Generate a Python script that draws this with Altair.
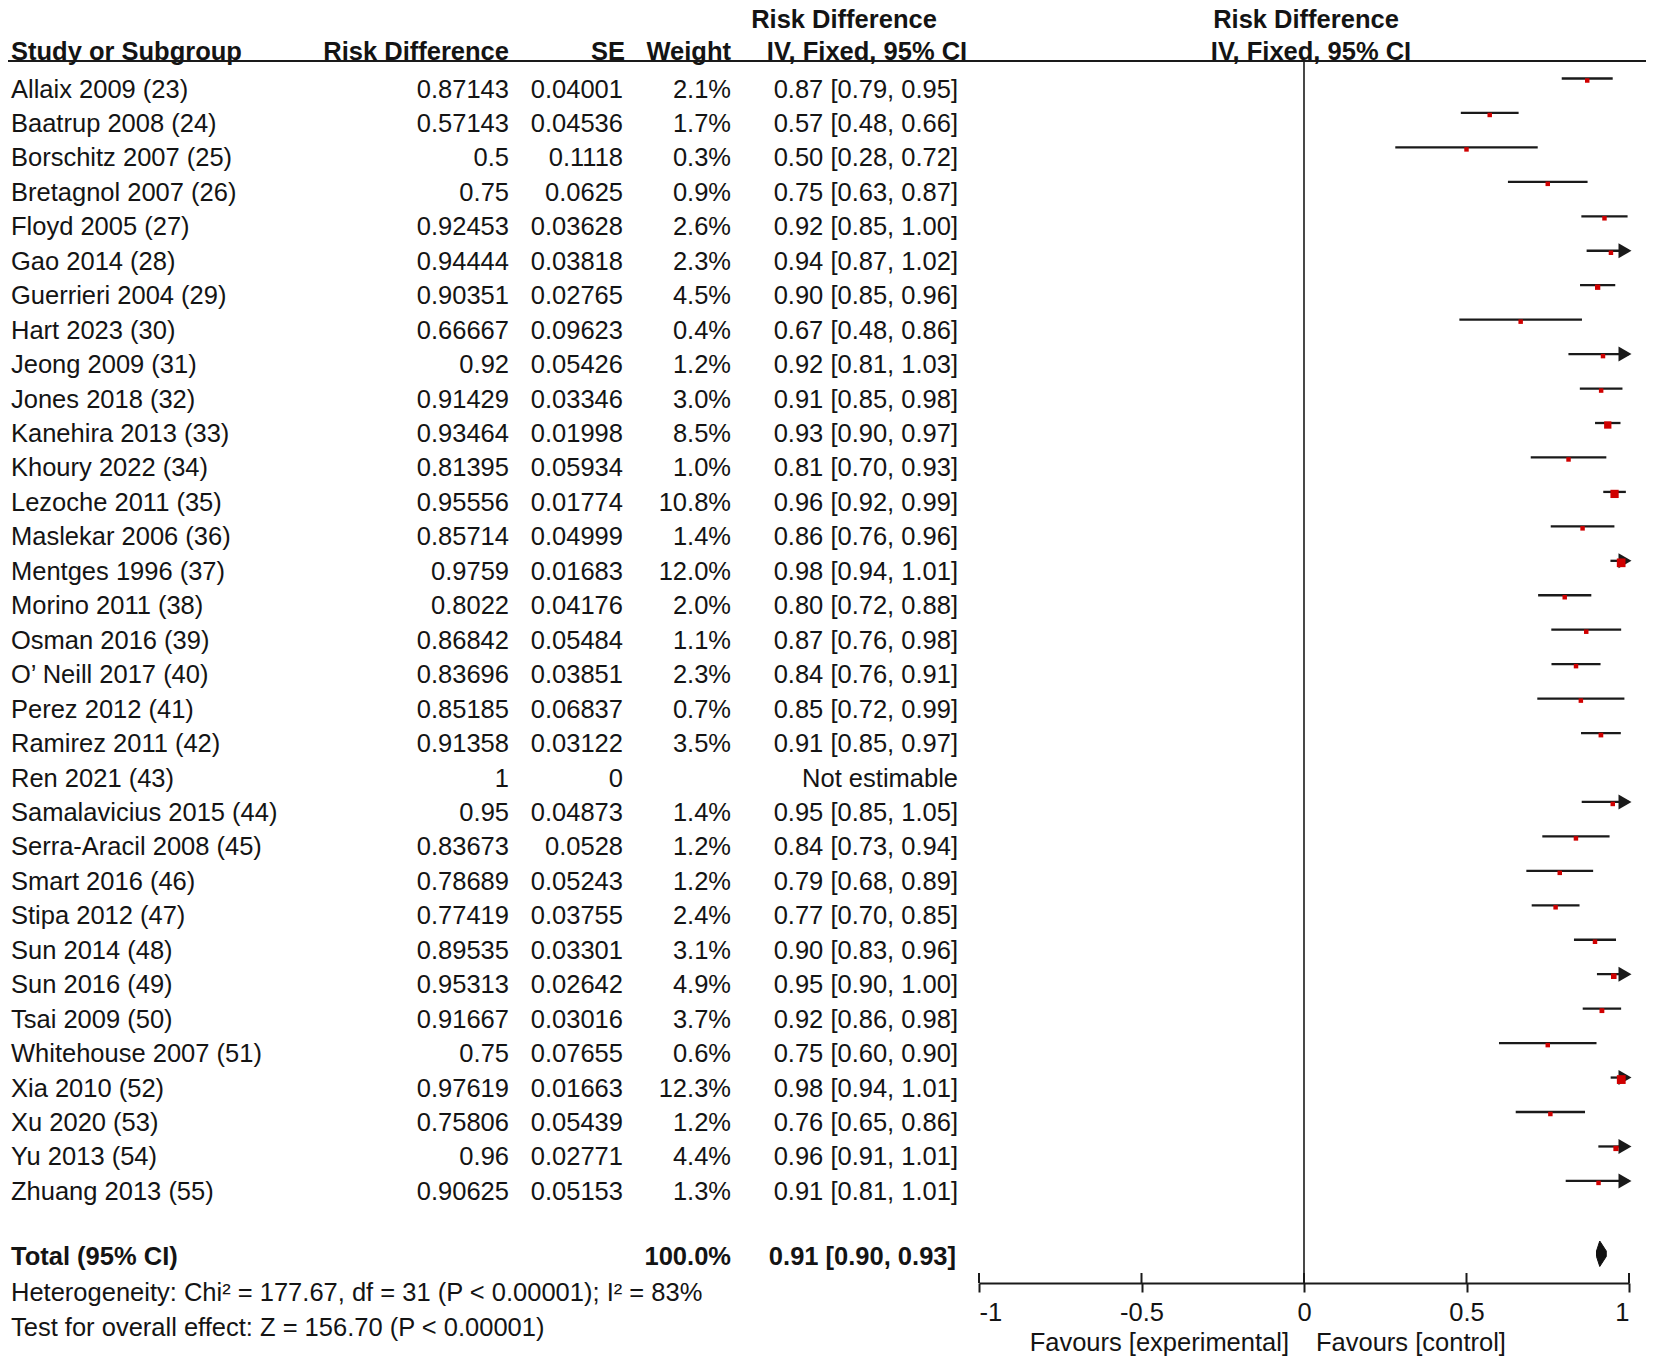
import altair as alt
import pandas as pd

# ---------------- data ----------------
studies = ["Allaix 2009 (23)", "Baatrup 2008 (24)", "Borschitz 2007 (25)", "Bretagnol 2007 (26)",
           "Floyd 2005 (27)", "Gao 2014 (28)", "Guerrieri 2004 (29)", "Hart 2023 (30)",
           "Jeong 2009 (31)", "Jones 2018 (32)", "Kanehira 2013 (33)", "Khoury 2022 (34)",
           "Lezoche 2011 (35)", "Maslekar 2006 (36)", "Mentges 1996 (37)", "Morino 2011 (38)",
           "Osman 2016 (39)", "O\u2019 Neill 2017 (40)", "Perez 2012 (41)", "Ramirez 2011 (42)",
           "Ren 2021 (43)", "Samalavicius 2015 (44)", "Serra-Aracil 2008 (45)", "Smart 2016 (46)",
           "Stipa 2012 (47)", "Sun 2014 (48)", "Sun 2016 (49)", "Tsai 2009 (50)",
           "Whitehouse 2007 (51)", "Xia 2010 (52)", "Xu 2020 (53)", "Yu 2013 (54)", "Zhuang 2013 (55)"]
rd_text = ["0.87143", "0.57143", "0.5", "0.75", "0.92453", "0.94444", "0.90351", "0.66667",
           "0.92", "0.91429", "0.93464", "0.81395", "0.95556", "0.85714", "0.9759", "0.8022",
           "0.86842", "0.83696", "0.85185", "0.91358", "1", "0.95", "0.83673", "0.78689",
           "0.77419", "0.89535", "0.95313", "0.91667", "0.75", "0.97619", "0.75806", "0.96", "0.90625"]
se_text = ["0.04001", "0.04536", "0.1118", "0.0625", "0.03628", "0.03818", "0.02765", "0.09623",
           "0.05426", "0.03346", "0.01998", "0.05934", "0.01774", "0.04999", "0.01683", "0.04176",
           "0.05484", "0.03851", "0.06837", "0.03122", "0", "0.04873", "0.0528", "0.05243",
           "0.03755", "0.03301", "0.02642", "0.03016", "0.07655", "0.01663", "0.05439", "0.02771", "0.05153"]
weight_pct = [2.1, 1.7, 0.3, 0.9, 2.6, 2.3, 4.5, 0.4, 1.2, 3.0, 8.5, 1.0, 10.8, 1.4, 12.0, 2.0,
              1.1, 2.3, 0.7, 3.5, None, 1.4, 1.2, 1.2, 2.4, 3.1, 4.9, 3.7, 0.6, 12.3, 1.2, 4.4, 1.3]
ci_text = ["0.87 [0.79, 0.95]", "0.57 [0.48, 0.66]", "0.50 [0.28, 0.72]", "0.75 [0.63, 0.87]",
           "0.92 [0.85, 1.00]", "0.94 [0.87, 1.02]", "0.90 [0.85, 0.96]", "0.67 [0.48, 0.86]",
           "0.92 [0.81, 1.03]", "0.91 [0.85, 0.98]", "0.93 [0.90, 0.97]", "0.81 [0.70, 0.93]",
           "0.96 [0.92, 0.99]", "0.86 [0.76, 0.96]", "0.98 [0.94, 1.01]", "0.80 [0.72, 0.88]",
           "0.87 [0.76, 0.98]", "0.84 [0.76, 0.91]", "0.85 [0.72, 0.99]", "0.91 [0.85, 0.97]",
           "Not estimable", "0.95 [0.85, 1.05]", "0.84 [0.73, 0.94]", "0.79 [0.68, 0.89]",
           "0.77 [0.70, 0.85]", "0.90 [0.83, 0.96]", "0.95 [0.90, 1.00]", "0.92 [0.86, 0.98]",
           "0.75 [0.60, 0.90]", "0.98 [0.94, 1.01]", "0.76 [0.65, 0.86]", "0.96 [0.91, 1.01]",
           "0.91 [0.81, 1.01]"]

total_label = "Total (95% CI)"
total_weight = "100.0%"
total_ci_text = "0.91 [0.90, 0.93]"
total_est, total_lo, total_hi = 0.91, 0.90, 0.93
heterogeneity = "Heterogeneity: Chi\u00b2 = 177.67, df = 31 (P < 0.00001); I\u00b2 = 83%"
overall = "Test for overall effect: Z = 156.70 (P < 0.00001)"
fav_left = "Favours [experimental]"
fav_right = "Favours [control]"
x_ticks = [-1, -0.5, 0, 0.5, 1]

# ---------------- layout / style ----------------
FONT = "Liberation Sans"
FS = 25.5
TXT = "#141414"
LINE = "#1a1a1a"
RED = "#d00000"
W, H = 1638, 1275
ROW_TOP, ROW_BOTTOM = -2.366, 34.644
ROW_H1, ROW_H2 = -2.02, -1.09
ROW_TOTAL, ROW_HET, ROW_TEST, ROW_FAV = 33.875, 34.94, 35.94, 36.39

rows = pd.DataFrame({
    "row": list(range(len(studies))),
    "study": studies,
    "rd": rd_text,
    "se_t": se_text,
    "w": weight_pct,
    "ci": ci_text,
})
rows["est"] = rows["rd"].astype(float)
rows["se"] = rows["se_t"].astype(float)
rows["lo"] = rows["est"] - 1.96 * rows["se"]
rows["hi"] = rows["est"] + 1.96 * rows["se"]
rows["hi_clip"] = rows["hi"].clip(upper=1)
rows["w_t"] = [f"{w:.1f}%" if w is not None and w == w else "" for w in weight_pct]
plotted = rows[rows["w"].notna()].copy()
plotted["sz"] = [max(20.0, 6.3 * w) for w in plotted["w"]]
arrows = plotted[plotted["hi"] > 1].copy()

yscale = alt.Scale(domain=[ROW_TOP, ROW_BOTTOM], reverse=True, nice=False, zero=False)
xscale = alt.Scale(domain=[-1, 1], range=[971, 1621], nice=False, zero=False)
xaxis = alt.Axis(values=x_ticks, labelFlush=True, tickSize=9, tickWidth=2, domainWidth=2,
                 domainColor=LINE, tickColor=LINE, labelColor=TXT, labelFont=FONT,
                 labelFontSize=FS, labelPadding=8, grid=False, title=None,
                 labelExpr="toString(datum.value)")


def Y(field="row"):
    return alt.Y(f"{field}:Q", scale=yscale, axis=None)


def text_layer(df, field, x, align, bold=False):
    return alt.Chart(df).mark_text(
        align=align, baseline="middle", font=FONT, fontSize=FS,
        fontWeight="bold" if bold else "normal", color=TXT
    ).encode(x=alt.value(x), y=Y(), text=alt.Text(f"{field}:N"))


def single(text, row):
    return pd.DataFrame({"t": [text], "row": [row]})


layers = []

# table columns
layers.append(text_layer(rows, "study", 3, "left"))
layers.append(text_layer(rows, "rd", 501, "right"))
layers.append(text_layer(rows, "se_t", 615, "right"))
layers.append(text_layer(rows, "w_t", 723, "right"))
layers.append(text_layer(rows, "ci", 950, "right"))

# headers
layers.append(text_layer(single("Risk Difference", ROW_H1), "t", 836, "center", True))
layers.append(text_layer(single("Risk Difference", ROW_H1), "t", 1298, "center", True))
layers.append(text_layer(single("Study or Subgroup", ROW_H2), "t", 3, "left", True))
layers.append(text_layer(single("Risk Difference", ROW_H2), "t", 501, "right", True))
layers.append(text_layer(single("SE", ROW_H2), "t", 617, "right", True))
layers.append(text_layer(single("Weight", ROW_H2), "t", 723, "right", True))
layers.append(text_layer(single("IV, Fixed, 95% CI", ROW_H2), "t", 859, "center", True))
layers.append(text_layer(single("IV, Fixed, 95% CI", ROW_H2), "t", 1303, "center", True))

# total and footer
layers.append(text_layer(single(total_label, ROW_TOTAL), "t", 3, "left", True))
layers.append(text_layer(single(total_weight, ROW_TOTAL), "t", 723, "right", True))
layers.append(text_layer(single(total_ci_text, ROW_TOTAL), "t", 948, "right", True))
layers.append(text_layer(single(heterogeneity, ROW_HET), "t", 3, "left"))
layers.append(text_layer(single(overall, ROW_TEST), "t", 3, "left"))
layers.append(text_layer(single(fav_left, ROW_FAV), "t", 1281, "right"))
layers.append(text_layer(single(fav_right, ROW_FAV), "t", 1308, "left"))

# header rule and zero line
layers.append(alt.Chart(single("", 0)).mark_rule(color=LINE, strokeWidth=2).encode(
    x=alt.value(0), x2=alt.value(W), y=alt.value(53)))
layers.append(alt.Chart(single("", 0)).mark_rule(color=LINE, strokeWidth=1.6).encode(
    x=alt.datum(0, scale=xscale, axis=xaxis), y=alt.value(53), y2=alt.value(H)))

# upward halves of the axis ticks
ticks_df = pd.DataFrame({"t": x_ticks})
layers.append(alt.Chart(ticks_df).mark_rule(color=LINE, strokeWidth=2).encode(
    x=alt.X("t:Q", scale=xscale, axis=xaxis), y=alt.value(H - 10), y2=alt.value(H)))

# CI lines
layers.append(alt.Chart(plotted).mark_rule(color=LINE, strokeWidth=2.3, yOffset=-11).encode(
    x=alt.X("lo:Q", scale=xscale, axis=xaxis), x2="hi_clip:Q", y=Y()))

# arrows for CIs beyond the axis
layers.append(alt.Chart(arrows).mark_point(shape="triangle-right", filled=True, color=LINE,
                                           opacity=1, size=225, xOffset=-4, yOffset=-11).encode(
    x=alt.X("hi_clip:Q", scale=xscale, axis=xaxis), y=Y()))

# weight squares
layers.append(alt.Chart(plotted).mark_square(color=RED, opacity=1, yOffset=-9).encode(
    x=alt.X("est:Q", scale=xscale, axis=xaxis), y=Y(),
    size=alt.Size("sz:Q", scale=None, legend=None)))

# total diamond
dh = 0.29
diamond = pd.DataFrame({
    "x": [total_lo, total_est, total_hi],
    "y1": [ROW_TOTAL, ROW_TOTAL - dh, ROW_TOTAL],
    "y2": [ROW_TOTAL, ROW_TOTAL + dh, ROW_TOTAL],
})
layers.append(alt.Chart(diamond).mark_area(color="#111111", opacity=1, yOffset=-5.5,
                                           stroke="#111111", strokeWidth=1).encode(
    x=alt.X("x:Q", scale=xscale, axis=xaxis), y=Y("y1"), y2="y2:Q"))

chart = alt.layer(*layers).properties(
    width=W, height=H,
    autosize=alt.AutoSizeParams(type="none"),
    padding={"left": 0, "top": 0, "right": 0, "bottom": 75},
    background="white",
).configure_view(stroke="transparent")

chart.save("out.html", embed_options={"renderer": "svg", "actions": False})
